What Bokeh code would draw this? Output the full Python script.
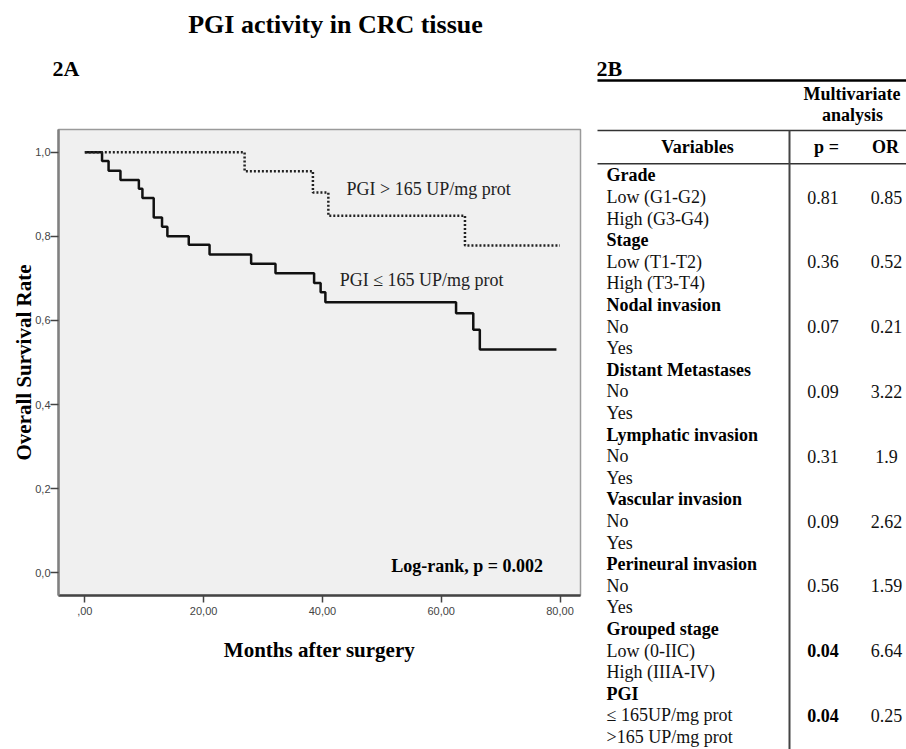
from bokeh.plotting import figure
from bokeh.models import Range1d, FixedTicker, Label, ColumnDataSource
from bokeh.layouts import row, column
from bokeh.embed import file_html
from bokeh.resources import INLINE
from bokeh.core.properties import value

# ---------------- Kaplan-Meier data ----------------
low_pgi_months = [0, 2.9, 4.0, 6.0, 9.1, 9.7, 11.6, 13.0, 13.9, 17.5, 21.0, 28.0,
                  32.1, 38.6, 39.7, 40.5, 62.5, 65.4, 66.5, 79.4]
low_pgi_survival = [1.0, 0.979, 0.956, 0.934, 0.913, 0.891, 0.845, 0.823, 0.800,
                    0.780, 0.757, 0.735, 0.712, 0.689, 0.667, 0.643, 0.617, 0.578,
                    0.531, 0.531]
high_pgi_months = [0, 26.9, 38.4, 41.0, 64.0, 80.0]
high_pgi_survival = [1.0, 0.955, 0.904, 0.849, 0.778, 0.778]

x_ticks = [0, 20, 40, 60, 80]
x_tick_labels = [",00", "20,00", "40,00", "60,00", "80,00"]
y_ticks = [0.0, 0.2, 0.4, 0.6, 0.8, 1.0]
y_tick_labels = ["0,0", "0,2", "0,4", "0,6", "0,8", "1,0"]

# ---------------- Table data ----------------
groups = ["Grade", "Stage", "Nodal invasion", "Distant Metastases",
          "Lymphatic invasion", "Vascular invasion", "Perineural invasion",
          "Grouped stage", "PGI"]
level_a = ["Low (G1-G2)", "Low (T1-T2)", "No", "No", "No", "No", "No",
           "Low (0-IIC)", "\u2264 165UP/mg prot"]
level_b = ["High (G3-G4)", "High  (T3-T4)", "Yes", "Yes", "Yes", "Yes", "Yes",
           "High (IIIA-IV)", ">165 UP/mg prot"]
p_values = ["0.81", "0.36", "0.07", "0.09", "0.31", "0.09", "0.56", "0.04", "0.04"]
or_values = ["0.85", "0.52", "0.21", "3.22", "1.9", "2.62", "1.59", "6.64", "0.25"]

SERIF = value("Liberation Serif")
# the text anchor renders about 0.34 em above the visual baseline
LIFT = 0.3375


def no_frame_align(fig):
    if "frame_align" in fig.properties():
        fig.frame_align = False


def blank(fig):
    fig.grid.visible = False
    fig.outline_line_color = None
    fig.background_fill_color = "white"
    fig.border_fill_color = "white"
    no_frame_align(fig)


# ---------------- Header above panel A ----------------
head = figure(width=590, height=125, x_range=Range1d(0, 590), y_range=Range1d(125, 0),
              output_backend="svg", toolbar_location=None,
              x_axis_location=None, y_axis_location=None, min_border=0)
blank(head)
head.text(x=[335], y=[33 - LIFT * 26], text=["PGI activity in CRC tissue"], text_font=SERIF,
          text_font_size="26px", text_font_style="bold", text_color="black",
          text_align="center", text_baseline="alphabetic")
head.text(x=[52], y=[75 - LIFT * 22], text=["2A"], text_font=SERIF, text_font_size="22px",
          text_font_style="bold", text_color="black", text_baseline="alphabetic")

# ---------------- Figure A: survival curves ----------------
p1 = figure(width=590, height=624,
            x_range=Range1d(-4.43, 83.45), y_range=Range1d(-0.054, 1.054),
            output_backend="svg", toolbar_location=None,
            min_border_left=58, min_border_right=10,
            min_border_top=4, min_border_bottom=154)
no_frame_align(p1)
p1.background_fill_color = "#f0f0f0"
p1.border_fill_color = "white"
p1.outline_line_color = "#9a9a9a"
p1.outline_line_width = 1.5
p1.xgrid.visible = False
p1.ygrid.visible = False

low_src = ColumnDataSource(dict(x=low_pgi_months, y=low_pgi_survival))
high_src = ColumnDataSource(dict(x=high_pgi_months, y=high_pgi_survival))
p1.step(x="x", y="y", source=low_src, mode="after", line_color="#111111", line_width=2.5)
p1.step(x="x", y="y", source=high_src, mode="after", line_color="#222222",
        line_width=2.5, line_dash="2 2")

xa = p1.xaxis[0]
xa.ticker = FixedTicker(ticks=x_ticks)
xa.major_label_overrides = {t: l for t, l in zip(x_ticks, x_tick_labels)}
ya = p1.yaxis[0]
ya.ticker = FixedTicker(ticks=y_ticks)
ya.major_label_overrides = {t: l for t, l in zip(y_ticks, y_tick_labels)}

for ax in (xa, ya):
    ax.minor_tick_line_color = None
    ax.major_tick_in = 0
    ax.major_tick_out = 8
    ax.major_tick_line_color = "#444444"
    ax.major_tick_line_width = 1.5
    ax.major_label_text_font = "Liberation Sans"
    ax.major_label_text_font_size = "11px"
    ax.major_label_text_color = "#444444"
    ax.axis_label_text_font = "Liberation Serif"
    ax.axis_label_text_font_style = "bold"
    ax.axis_label_text_font_size = "21px"
    ax.axis_label_text_color = "black"
xa.axis_line_color = "#444444"
xa.axis_line_width = 2.5
ya.axis_line_color = "#808080"
ya.axis_line_width = 2.5
xa.axis_label = "Months after surgery"
ya.axis_label = "Overall Survival Rate"
xa.major_tick_out = 7
xa.major_label_standoff = 4
xa.axis_label_standoff = 20
ya.major_label_standoff = 0
ya.axis_label_standoff = -4

PX_PER_UNIT = 420.6  # vertical pixels per 1.0 of survival rate
lift18 = LIFT * 18 / PX_PER_UNIT
p1.add_layout(Label(x=44.06, y=0.8975 + lift18, text="PGI > 165 UP/mg prot",
                    text_font="Liberation Serif", text_font_size="18px",
                    text_color="#222222", text_baseline="alphabetic"))
p1.add_layout(Label(x=42.9, y=0.6815 + lift18, text="PGI \u2264 165 UP/mg prot",
                    text_font="Liberation Serif", text_font_size="18px",
                    text_color="#222222", text_baseline="alphabetic"))
p1.add_layout(Label(x=51.6, y=0.0015 + lift18, text="Log-rank,  p = 0.002",
                    text_font="Liberation Serif", text_font_size="18px",
                    text_font_style="bold", text_color="black",
                    text_baseline="alphabetic"))

# ---------------- Figure B: multivariate table ----------------
p2 = figure(width=316, height=749,
            x_range=Range1d(590, 906), y_range=Range1d(749, 0),
            output_backend="svg", toolbar_location=None,
            x_axis_location=None, y_axis_location=None, min_border=0)
blank(p2)

row0, step = 181.0, 21.6
label_x, p_x, or_x = 606, 822.5, 886
FSN = 18
FS = f"{FSN}px"
lift = LIFT * FSN

bold_txt, bold_x, bold_y, bold_align = [], [], [], []
norm_txt, norm_x, norm_y, norm_align = [], [], [], []
for i, g in enumerate(groups):
    y0 = row0 + 3 * i * step - lift
    bold_txt.append(g); bold_x.append(label_x); bold_y.append(y0); bold_align.append("left")
    norm_txt += [level_a[i], level_b[i]]
    norm_x += [label_x, label_x]
    norm_y += [y0 + step, y0 + 2 * step]
    norm_align += ["left", "left"]
    if float(p_values[i]) < 0.05:
        bold_txt.append(p_values[i]); bold_x.append(p_x); bold_y.append(y0 + step); bold_align.append("center")
    else:
        norm_txt.append(p_values[i]); norm_x.append(p_x); norm_y.append(y0 + step); norm_align.append("center")
    norm_txt.append(or_values[i]); norm_x.append(or_x); norm_y.append(y0 + step); norm_align.append("center")

# headers
bold_txt += ["Multivariate", "analysis", "Variables", "p =", "OR"]
bold_x += [851.5, 852, 697, 826, 885]
bold_y += [100 - lift, 120.5 - lift, 152.3 - lift, 152.3 - lift, 152.3 - lift]
bold_align += ["center"] * 5

p2.text(x="x", y="y", text="t", text_align="a",
        source=ColumnDataSource(dict(x=norm_x, y=norm_y, t=norm_txt, a=norm_align)),
        text_font=SERIF, text_font_size=FS, text_color="#111111",
        text_baseline="alphabetic")
p2.text(x="x", y="y", text="t", text_align="a",
        source=ColumnDataSource(dict(x=bold_x, y=bold_y, t=bold_txt, a=bold_align)),
        text_font=SERIF, text_font_size=FS, text_font_style="bold",
        text_color="black", text_baseline="alphabetic")
p2.text(x=[596], y=[75 - LIFT * 22], text=["2B"], text_font=SERIF, text_font_size="22px",
        text_font_style="bold", text_color="black", text_baseline="alphabetic")

p2.segment(x0=[597], y0=[80], x1=[906], y1=[80], line_color="black", line_width=2.5)
p2.segment(x0=[597, 597], y0=[130, 163.3], x1=[906, 906], y1=[130, 163.3],
           line_color="#333333", line_width=1.5)
p2.segment(x0=[789], y0=[130], x1=[789], y1=[749], line_color="#444444", line_width=2)

layout = row(column(head, p1), p2)
open("out.html", "w").write(file_html(layout, INLINE))
